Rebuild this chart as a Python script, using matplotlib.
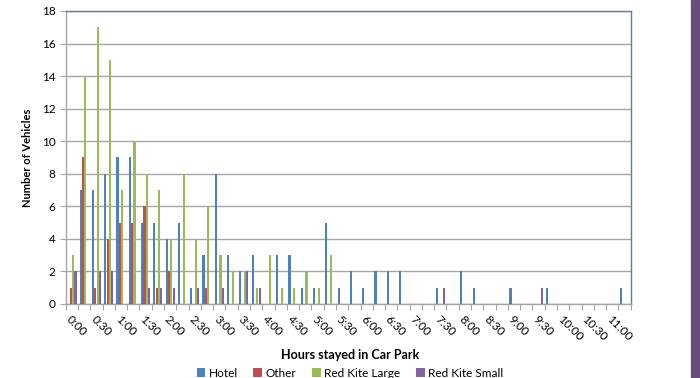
import matplotlib
matplotlib.use("Agg")
import matplotlib.pyplot as plt
from matplotlib.patches import Rectangle
import numpy as np

plt.rcParams['font.family'] = ['Lato', 'DejaVu Sans']

# 15-minute duration bands, 0:00 to 11:15
durations = [f"{m // 60}:{m % 60:02d}" for m in range(0, 11 * 60 + 30, 15)]

hotel = [0, 7, 7, 8, 9, 9, 5, 5, 4, 5, 1, 3, 8, 3, 2, 3,
         0, 3, 3, 1, 1, 5, 1, 2, 1, 2, 2, 2, 0, 0, 1, 0,
         2, 1, 0, 0, 1, 0, 0, 1, 0, 0, 0, 0, 0, 1]
other = [1, 9, 1, 4, 5, 5, 6, 1, 2, 0, 0, 1, 0, 0, 0, 0,
         0, 0, 0, 0, 0, 0, 0, 0, 0, 0, 0, 0, 0, 0, 0, 0,
         0, 0, 0, 0, 0, 0, 0, 0, 0, 0, 0, 0, 0, 0]
red_kite_large = [3, 14, 17, 15, 7, 10, 8, 7, 4, 8, 4, 6, 3, 2, 2, 1,
                  3, 1, 1, 2, 1, 3, 0, 0, 0, 0, 0, 0, 0, 0, 0, 0,
                  0, 0, 0, 0, 0, 0, 0, 0, 0, 0, 0, 0, 0, 0]
red_kite_small = [2, 0, 2, 2, 0, 0, 1, 1, 1, 0, 1, 0, 1, 0, 2, 1,
                  0, 0, 0, 0, 0, 0, 0, 0, 0, 0, 0, 0, 0, 0, 1, 0,
                  0, 0, 0, 0, 0, 0, 1, 0, 0, 0, 0, 0, 0, 0]

series_names = ["Hotel", "Other", "Red Kite Large", "Red Kite Small"]
series_colors = ["#4F81BD", "#C0504D", "#9BBB59", "#8064A2"]

fig = plt.figure(figsize=(7.0, 3.78), dpi=100)
ax = fig.add_axes([0.094, 0.196, 0.807, 0.775])

x = np.arange(len(durations))
bar_w = 0.19
for i, (vals, name, col) in enumerate(zip(
        [hotel, other, red_kite_large, red_kite_small], series_names, series_colors)):
    ax.bar(x + (i - 1.5) * bar_w, vals, width=bar_w * 0.92, color=col,
           label=name, zorder=3, linewidth=0)

ax.set_xlim(-0.5, len(durations) - 0.5)
ax.set_ylim(0, 18)
ax.set_yticks(np.arange(0, 19, 2))
ax.yaxis.grid(True, color="#A6A6A6", linewidth=1.0, zorder=0)
ax.set_axisbelow(True)

major = x[::2]
ax.set_xticks(major)
ax.set_xticklabels([durations[i] for i in major], rotation=-45,
                   ha="left", va="top", rotation_mode="anchor", fontsize=8.5)
ax.set_xticks(np.arange(-0.5, len(durations), 1.0), minor=True)
ax.tick_params(axis="x", which="major", length=0, pad=7)
ax.tick_params(axis="x", which="minor", length=4, color="#A6A6A6", width=0.8)
ax.tick_params(axis="y", length=4, color="#A6A6A6", width=0.8, labelsize=8.5)

for side in ("left", "bottom"):
    ax.spines[side].set_color("#A6A6A6")
    ax.spines[side].set_linewidth(1.0)
for side in ("top", "right"):
    ax.spines[side].set_color("#4F81BD")
    ax.spines[side].set_linewidth(1.0)

ax.set_ylabel("Number of Vehicles", fontsize=8, fontweight="bold", labelpad=6)
fig.text(0.5, 0.061, "Hours stayed in Car Park", ha="center", va="center",
         fontsize=9, fontweight="bold")

fig.text(0.49, 1.0 + 3.5 / 378, "Hours Stayed on Day", ha="center", va="baseline",
         fontsize=12, fontweight="bold", color="#262626")

fig.legend(loc="center", bbox_to_anchor=(0.5, 0.013), ncol=4,
           frameon=False, fontsize=8.5, handlelength=0.75, handleheight=0.75,
           handletextpad=0.3, columnspacing=1.3, borderpad=0)

# purple page-edge strip
fig.add_artist(Rectangle((0.987, 0.0), 0.013, 1.0, transform=fig.transFigure,
                         color="#664E7F", zorder=10))

fig.savefig("out.png", dpi=100)
